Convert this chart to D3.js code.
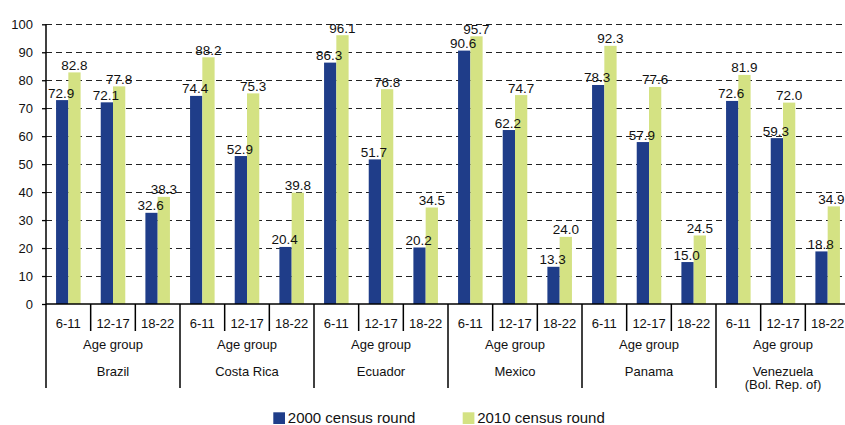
<!DOCTYPE html>
<html><head><meta charset="utf-8">
<script src="https://cdn.jsdelivr.net/npm/d3@7"></script>
<style>body{margin:0;background:#fff}svg{display:block;font-family:"Liberation Sans",Arial,sans-serif}</style>
</head><body><svg id="c" width="845" height="425"></svg>
<script>
const countries = ["Brazil","Costa Rica","Ecuador","Mexico","Panama","Venezuela\n(Bol. Rep. of)"];
const ageGroups = ["6-11","12-17","18-22"];
const seriesNames = ["2000 census round","2010 census round"];
const values2000 = [72.9,72.1,32.6, 74.4,52.9,20.4, 86.3,51.7,20.2, 90.6,62.2,13.3, 78.3,57.9,15.0, 72.6,59.3,18.8];
const values2010 = [82.8,77.8,38.3, 88.2,75.3,39.8, 96.1,76.8,34.5, 95.7,74.7,24.0, 92.3,77.6,24.5, 81.9,72.0,34.9];
const yTicks = [0,10,20,30,40,50,60,70,80,90,100];
const colors = ["#1f3d89","#d4e283"];

(function(){
const svg = d3.select("#c");
const mLeft = 46, mRight = 850, mTop = 24.3, mBottom = 304;
const cats = [];
countries.forEach((c,ci)=>ageGroups.forEach((a,ai)=>cats.push({key:ci+"|"+ai, country:c, age:a, ci, ai, idx:ci*3+ai})));
const x0 = d3.scaleBand().domain(cats.map(d=>d.key)).range([mLeft,mRight]).padding(0);
const x1 = d3.scaleBand().domain([0,1]).range([0,x0.bandwidth()]).paddingInner(0).paddingOuter(0.82);
const y = d3.scaleLinear().domain([0,100]).range([mBottom,mTop]);

// gridlines
svg.append("g").selectAll("line").data(yTicks.filter(t=>t>0)).join("line")
  .attr("x1",mLeft).attr("x2",845).attr("y1",d=>Math.round(y(d))+0.5).attr("y2",d=>Math.round(y(d))+0.5)
  .attr("stroke","#222").attr("stroke-width",1.2).attr("stroke-dasharray","6,4");

// bars
const series = [values2000, values2010];
const g = svg.append("g");
series.forEach((vals,si)=>{
  g.append("g").selectAll("rect").data(cats).join("rect")
    .attr("x",d=>x0(d.key)+x1(si)).attr("width",x1.bandwidth())
    .attr("y",d=>y(vals[d.idx])).attr("height",d=>y(0)-y(vals[d.idx]))
    .attr("fill",colors[si]);
});
// value labels
series.forEach((vals,si)=>{
  svg.append("g").selectAll("text").data(cats).join("text")
    .attr("x",d=>x0(d.key)+x1(si)+x1.bandwidth()/2 - (si===0?1:0))
    .attr("y",d=>y(vals[d.idx])-2.5)
    .attr("text-anchor","middle").attr("font-size",13.5).attr("fill","#111")
    .text(d=>vals[d.idx].toFixed(1))
    .each(function(){
      const bb = this.getBBox();
      if (bb.x + bb.width > 844.5) {
        d3.select(this).attr("x", +d3.select(this).attr("x") - (bb.x + bb.width - 844.5));
      }
    });
});

// y axis
const yAxis = d3.axisLeft(y).tickValues(yTicks).tickSize(4).tickPadding(9);
const ya = svg.append("g").attr("transform",`translate(${mLeft},0)`).call(yAxis);
ya.select(".domain").remove();
ya.selectAll(".tick line").attr("stroke","#000").attr("stroke-width",1.3);
ya.selectAll(".tick text").attr("font-size",13).attr("fill","#111").attr("font-family","Liberation Sans, Arial, sans-serif");
svg.append("line").attr("x1",mLeft).attr("x2",mLeft).attr("y1",mTop).attr("y2",388).attr("stroke","#000").attr("stroke-width",1.5);
svg.append("line").attr("x1",mLeft).attr("x2",845).attr("y1",mBottom).attr("y2",mBottom).attr("stroke","#000").attr("stroke-width",1.5);

// category separators
const sep = svg.append("g");
cats.forEach(d=>{
  if(d.idx===0) return;
  const xx = x0(d.key);
  sep.append("line").attr("x1",xx).attr("x2",xx).attr("y1",mBottom).attr("y2",d.ai===0?388:331)
    .attr("stroke","#000").attr("stroke-width",1.5);
});
// category labels
svg.append("g").selectAll("text").data(cats).join("text")
  .attr("x",d=>x0(d.key)+x0.bandwidth()/2).attr("y",327.5).attr("text-anchor","middle")
  .attr("font-size",13).attr("fill","#111").text(d=>d.age);
const cw = x0.bandwidth()*3;
countries.forEach((c,ci)=>{
  const cx = mLeft + cw*ci + cw/2;
  svg.append("text").attr("x",cx).attr("y",348.5).attr("text-anchor","middle").attr("font-size",13).attr("fill","#111").text("Age group");
  c.split("\n").forEach((line,li)=>{
    svg.append("text").attr("x",cx).attr("y",375.5+li*13.5).attr("text-anchor","middle").attr("font-size",13).attr("fill","#111").text(line);
  });
});

// legend
const legX = [273.3, 462.7];
seriesNames.forEach((n,i)=>{
  svg.append("rect").attr("x",legX[i]).attr("y",412.3).attr("width",11.7).attr("height",11.7).attr("fill",colors[i]);
  svg.append("text").attr("x",legX[i]+14.5).attr("y",423.3).attr("font-size",15).attr("fill","#111").text(n);
});
})();
</script></body></html>
